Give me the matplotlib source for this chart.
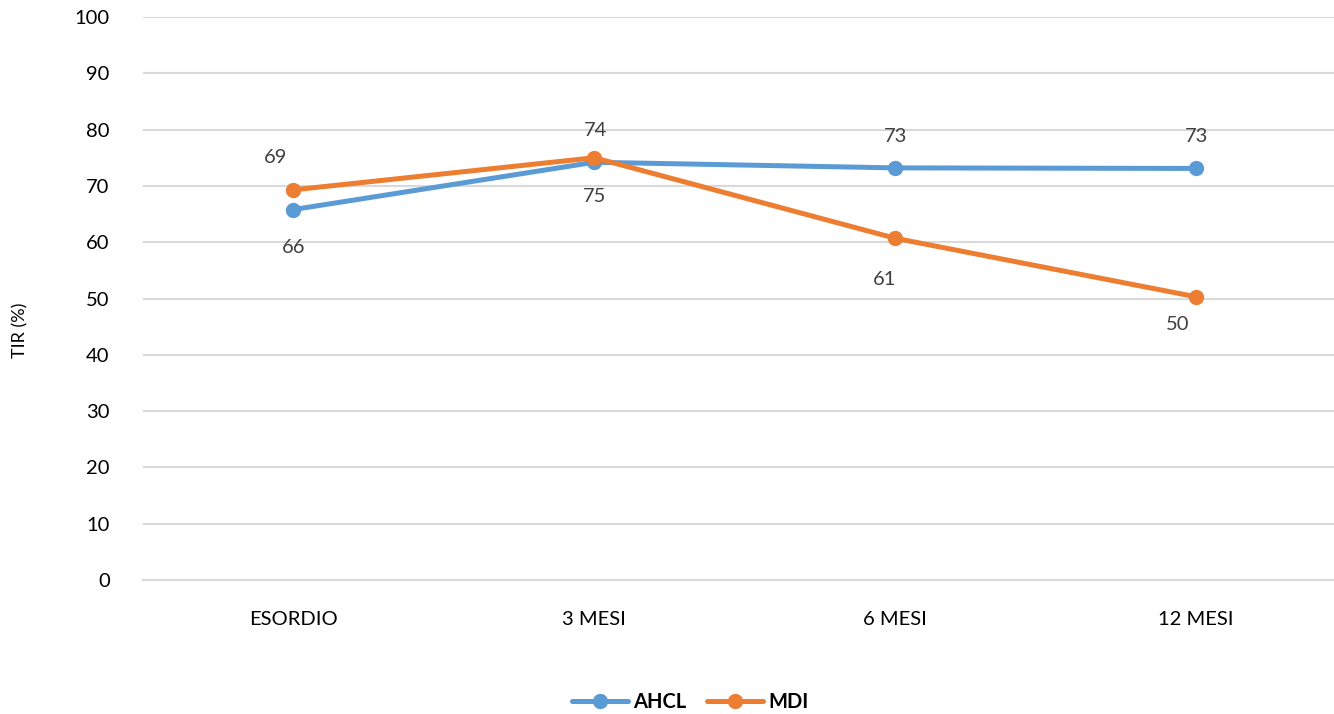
import matplotlib.pyplot as plt

categories = ["ESORDIO", "3 MESI", "6 MESI", "12 MESI"]
ahcl = [65.8, 74.2, 73.2, 73.1]
mdi = [69.3, 75.0, 60.7, 50.3]
ahcl_labels = ["66", "74", "73", "73"]
mdi_labels = ["69", "75", "61", "50"]

# label offsets in pixels (dx, dy) from each point
ahcl_off = [(0, -38), (1, 32), (0, 31), (0, 32)]
mdi_off = [(-18, 32), (0, -39), (-11, -41), (-18, -28)]

blue = "#5B9BD5"
orange = "#ED7D31"
grid = "#D9D9D9"

plt.rcParams['font.family'] = ['Lato', 'DejaVu Sans']

fig = plt.figure(figsize=(13.34, 7.14), dpi=100)
ax = fig.add_axes([143/1334, (714-580)/714, (1346.5-143)/1334, (580-17)/714])

x = list(range(len(categories)))
ax.plot(x, ahcl, color=blue, lw=3.6, marker='o', ms=10, solid_capstyle='round', label="AHCL", zorder=3)
ax.plot(x, mdi, color=orange, lw=3.6, marker='o', ms=10, solid_capstyle='round', label="MDI", zorder=4)

for i in x:
    ax.annotate(ahcl_labels[i], (i, ahcl[i]), xytext=ahcl_off[i], textcoords='offset pixels',
                ha='center', va='center', fontsize=14.5, color='#404040')
    ax.annotate(mdi_labels[i], (i, mdi[i]), xytext=mdi_off[i], textcoords='offset pixels',
                ha='center', va='center', fontsize=14.5, color='#404040')

ax.set_xlim(-0.5, 3.5)
ax.set_ylim(0, 100)
ax.set_yticks(range(0, 101, 10))
ax.set_xticks(x)
ax.set_xticklabels(categories)
ax.tick_params(length=0, labelsize=14.5, colors='black')
ax.tick_params(axis='x', pad=22)
ax.tick_params(axis='y', pad=24)
ax.yaxis.grid(True, color=grid, lw=1.5)
ax.set_axisbelow(True)
for s in ['top', 'right', 'left']:
    ax.spines[s].set_visible(False)
ax.spines['bottom'].set_color(grid)
ax.spines['bottom'].set_linewidth(1.5)

fig.text(20/1334, 1 - 330/714, "TIR (%)", rotation=90, ha='center', va='center', fontsize=13)

leg = fig.legend(loc='center', bbox_to_anchor=(690/1334, 1 - 702/714), ncol=2, frameon=False,
                 handlelength=2.8, columnspacing=1.0, handletextpad=0.25,
                 prop={'weight': 'bold', 'size': 14.5})

fig.savefig("out.png", dpi=100)
